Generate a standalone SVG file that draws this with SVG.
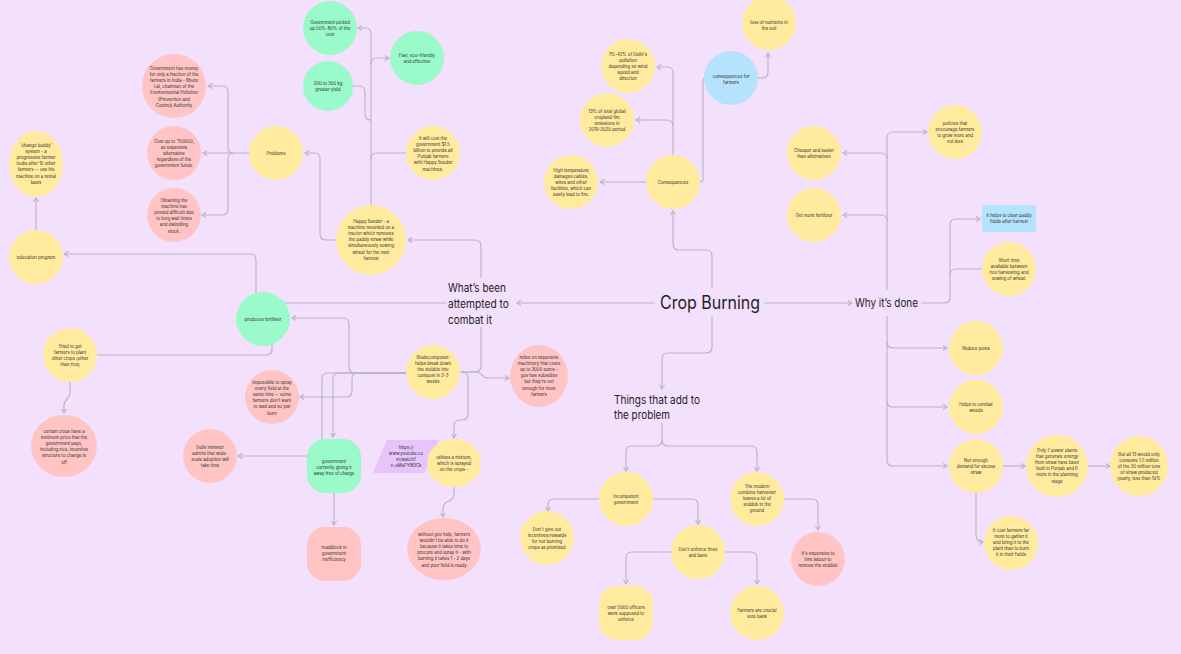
<svg xmlns="http://www.w3.org/2000/svg" width="1181" height="654" viewBox="0 0 1181 654">
<style>
.y{fill:#FFEA9D}.p{fill:#FFC4C3}.g{fill:#9AFACA}.b{fill:#B5E2FC}.v{fill:#E8C4FD}
.t{font-family:Inter,"Noto Sans","Liberation Sans",sans-serif;font-size:4.3px;fill:#2b2b2b;text-anchor:middle}
.L{font-family:Inter,"Noto Sans","Liberation Sans",sans-serif;fill:#1e1e1e}
.c{fill:none;stroke:#BAB3C2;stroke-width:1.1}
.a{marker-end:url(#ar)}
</style>
<defs>
<marker id="ar" viewBox="0 0 6 6" refX="5" refY="3" markerWidth="6" markerHeight="6" markerUnits="userSpaceOnUse" orient="auto"><path d="M1,0.5 L5,3 L1,5.5" fill="none" stroke="#BAB3C2" stroke-width="1.1"/></marker>
</defs>
<rect width="1181" height="654" fill="#F2E0FD"/>
<g id="connectors">
<path class="c a" d="M655,303 H517"/>
<path class="c a" d="M764,303 H852"/>
<path class="c a" d="M712,288 V256 Q712,250 706,250 H679 Q673,250 673,244 V211"/>
<path class="c a" d="M712,316 V347 Q712,353 706,353 H668 Q662,353 662,359 V389"/>
<path class="c a" d="M662,423 V440 Q662,446 656,446 H632 Q626,446 626,452 V471"/>
<path class="c a" d="M662,440 Q662,446 668,446 H751 Q757,446 757,452 V471"/>
<path class="c a" d="M653,499 H692 Q698,499 698,505 V524"/>
<path class="c a" d="M599,499 H554 Q548,499 548,505 V511"/>
<path class="c a" d="M672,552 H632 Q626,552 626,558 V584"/>
<path class="c a" d="M725,552 H751 Q757,552 757,558 V584"/>
<path class="c a" d="M783,499 H812 Q818,499 818,505 V530"/>
<path class="c a" d="M921,303 H944 Q950,303 950,297 V225 Q950,219 956,219 H980"/>
<path class="c" d="M950,275 Q950,269 956,269 H982"/>
<path class="c a" d="M887,290 V138 Q887,132 893,132 H927"/>
<path class="c a" d="M887,159 Q887,153 881,153 H843"/>
<path class="c a" d="M887,221 Q887,215 881,215 H843"/>
<path class="c a" d="M887,316 V460 Q887,466 893,466 H947"/>
<path class="c a" d="M887,342 Q887,348 893,348 H947"/>
<path class="c a" d="M887,401 Q887,407 893,407 H947"/>
<path class="c a" d="M1003,466 H1025"/>
<path class="c a" d="M976,493 V535 Q976,542 983,542"/>
<path class="c a" d="M1088,466 H1110"/>
<path class="c a" d="M673,155 V73 Q673,67 667,67 H657"/>
<path class="c a" d="M673,126 Q673,120 667,120 H636"/>
<path class="c a" d="M647,182 H600"/>
<path class="c" d="M700,182 Q703,182 703,179 V80 Q703,78 705,78"/>
<path class="c a" d="M758,78 H762 Q768,78 768,72 V53"/>
<path class="c a" d="M481,278 V246 Q481,240 475,240 H408"/>
<path class="c" d="M481,327 V366 Q481,372 475,372 H461"/>
<path class="c a" d="M461,372 H477 C482,372 482,378 488,378 H509"/>
<path class="c a" d="M461,372 H462 Q468,372 468,378 V414 Q468,420 462,420 H460 Q454,420 454,426 V438"/>
<path class="c a" d="M407,373 H355 Q349,373 349,367 V324 Q349,318 343,318 H292"/>
<path class="c a" d="M407,373 H358 Q352,373 352,379 V391 Q352,397 346,397 H300"/>
<path class="c a" d="M407,373 H339 Q333,373 333,379 V437"/>
<path class="c a" d="M407,373 H328 Q322,373 322,379 V450 Q322,456 316,456 H238"/>
<path class="c a" d="M447,303 H262 Q256,303 256,297 V260 Q256,254 250,254 H64"/>
<path class="c" d="M280,303 Q272,303 272,311 V349 Q272,355 266,355 H97"/>
<path class="c a" d="M70,382 V393 C70,399 64,399 64,405 V413"/>
<path class="c a" d="M36,230 V198"/>
<path class="c a" d="M334,493 V525"/>
<path class="c a" d="M454,487 V493 Q454,499 449,501 Q443,503 443,509 V517"/>
<path class="c a" d="M336,240 H326 Q320,240 320,234 V159 Q320,153 314,153 H305"/>
<path class="c a" d="M371,205 V34 Q371,28 365,28 H358"/>
<path class="c a" d="M371,64 Q371,58 377,58 H389"/>
<path class="c" d="M353,86 H359 Q365,86 365,92 V114 Q365,120 371,120"/>
<path class="c" d="M407,153 H377 Q371,153 371,159"/>
<path class="c a" d="M249,153 H203"/>
<path class="c a" d="M233,153 Q228,153 228,147 V92 Q228,86 222,86 H208"/>
<path class="c a" d="M233,153 Q228,153 228,159 V209 Q228,215 222,215 H202"/>
</g>

<g id="crop-burning"><text class="L" x="660" y="309" font-size="18" textLength="100" lengthAdjust="spacingAndGlyphs">Crop Burning</text></g>
<g id="attempted"><text class="L" font-size="11.5"><tspan x="448" y="291.5" textLength="58" lengthAdjust="spacingAndGlyphs">What’s been</tspan><tspan x="448" y="307.5" textLength="61" lengthAdjust="spacingAndGlyphs">attempted to</tspan><tspan x="448" y="323.5" textLength="44" lengthAdjust="spacingAndGlyphs">combat it</tspan></text></g>
<g id="why"><text class="L" x="855" y="307" font-size="11.5" textLength="63" lengthAdjust="spacingAndGlyphs">Why it’s done</text></g>
<g id="things"><text class="L" font-size="11.5"><tspan x="614" y="403.5" textLength="86" lengthAdjust="spacingAndGlyphs">Things that add to</tspan><tspan x="614" y="419" textLength="56" lengthAdjust="spacingAndGlyphs">the problem</tspan></text></g>

<g id="n-gov-picked"><circle class="g" cx="330" cy="28" r="27"/><text class="t" y="23.6"><tspan x="330">Government picked</tspan><tspan x="330" dy="6.2">up 50%-80% of the</tspan><tspan x="330" dy="6.2">cost</tspan></text></g>
<g id="n-fast"><circle class="g" cx="417" cy="58" r="27"/><text class="t" y="56.6"><tspan x="417">Fast, eco-friendly</tspan><tspan x="417" dy="6.2">and effective</tspan></text></g>
<g id="n-yield"><circle class="g" cx="328" cy="86" r="25"/><text class="t" y="84.6"><tspan x="328">200 to 300 kg</tspan><tspan x="328" dy="6.2">greater yield</tspan></text></g>
<g id="n-cost-billion"><circle class="y" cx="433" cy="153" r="27"/><text class="t" y="139.6"><tspan x="433">It will cost the</tspan><tspan x="433" dy="6.2">government $1.5</tspan><tspan x="433" dy="6.2">billion to provide all</tspan><tspan x="433" dy="6.2">Punjab farmers</tspan><tspan x="433" dy="6.2">with Happy Seeder</tspan><tspan x="433" dy="6.2">machines.</tspan></text></g>
<g id="n-happy-seeder"><circle class="y" cx="371" cy="240" r="35"/><text class="t" y="222.6"><tspan x="371">Happy Seeder - a</tspan><tspan x="371" dy="6.2">machine mounted on a</tspan><tspan x="371" dy="6.2">tractor which removes</tspan><tspan x="371" dy="6.2">the paddy straw while</tspan><tspan x="371" dy="6.2">simultaneously sowing</tspan><tspan x="371" dy="6.2">wheat for the next</tspan><tspan x="371" dy="6.2">harvest</tspan></text></g>
<g id="n-problems"><circle class="y" cx="276" cy="153" r="27"/><text class="t" x="276" y="154.6">Problems</text></g>
<g id="n-gov-money"><circle class="p" cx="174" cy="86" r="32"/><text class="t" y="69.6"><tspan x="174">Government has money</tspan><tspan x="174" dy="6.2">for only a fraction of the</tspan><tspan x="174" dy="6.2">farmers in India - Bhure</tspan><tspan x="174" dy="6.2">Lal, chairman of the</tspan><tspan x="174" dy="6.2">Environmental Pollution</tspan><tspan x="174" dy="6.2">(Prevention and</tspan><tspan x="174" dy="6.2">Control) Authority</tspan></text></g>
<g id="n-cost-150000"><circle class="p" cx="174" cy="153" r="27"/><text class="t" y="142.6"><tspan x="174">Cost up to '150000,</tspan><tspan x="174" dy="6.2">an expensive</tspan><tspan x="174" dy="6.2">alternative</tspan><tspan x="174" dy="6.2">regardless of the</tspan><tspan x="174" dy="6.2">government funds.</tspan></text></g>
<g id="n-obtaining"><circle class="p" cx="174" cy="215" r="27"/><text class="t" y="201.6"><tspan x="174">Obtaining the</tspan><tspan x="174" dy="6.2">machine has</tspan><tspan x="174" dy="6.2">proved difficult due</tspan><tspan x="174" dy="6.2">to long wait times</tspan><tspan x="174" dy="6.2">and dwindling</tspan><tspan x="174" dy="6.2">stock.</tspan></text></g>
<g id="n-change-buddy"><ellipse class="y" cx="36" cy="164" rx="27" ry="33"/><text class="t" y="146.6"><tspan x="36">'change buddy'</tspan><tspan x="36" dy="6.2">system - a</tspan><tspan x="36" dy="6.2">progressive farmer</tspan><tspan x="36" dy="6.2">looks after 10 other</tspan><tspan x="36" dy="6.2">farmers -- use his</tspan><tspan x="36" dy="6.2">machine on a rental</tspan><tspan x="36" dy="6.2">basis</tspan></text></g>
<g id="n-education"><circle class="y" cx="36" cy="257" r="27"/><text class="t" x="36" y="258.6">education program</text></g>
<g id="n-fertiliser"><circle class="g" cx="263" cy="319" r="27"/><text class="t" x="263" y="320.6">produces fertiliser</text></g>
<g id="n-other-crops"><circle class="y" cx="70" cy="355" r="27"/><text class="t" y="347.6"><tspan x="70">Tried to get</tspan><tspan x="70" dy="6.2">farmers to plant</tspan><tspan x="70" dy="6.2">other crops (other</tspan><tspan x="70" dy="6.2">than rice)</tspan></text></g>
<g id="n-min-price"><ellipse class="p" cx="64" cy="446" rx="33" ry="31"/><text class="t" y="432.6"><tspan x="64">certain crops have a</tspan><tspan x="64" dy="6.2">minimum price that the</tspan><tspan x="64" dy="6.2">government pays,</tspan><tspan x="64" dy="6.2">including rice; incentive</tspan><tspan x="64" dy="6.2">structure to change is</tspan><tspan x="64" dy="6.2">off</tspan></text></g>
<g id="n-impossible"><circle class="p" cx="272" cy="397" r="27"/><text class="t" y="383.6"><tspan x="272">Impossible to spray</tspan><tspan x="272" dy="6.2">every field at the</tspan><tspan x="272" dy="6.2">same time -- some</tspan><tspan x="272" dy="6.2">farmers don't want</tspan><tspan x="272" dy="6.2">to wait and so just</tspan><tspan x="272" dy="6.2">burn</tspan></text></g>
<g id="n-delhi-minister"><circle class="p" cx="210" cy="456" r="27"/><text class="t" y="448.6"><tspan x="210">Delhi minister</tspan><tspan x="210" dy="6.2">admits that wide-</tspan><tspan x="210" dy="6.2">scale adoption will</tspan><tspan x="210" dy="6.2">take time</tspan></text></g>
<g id="n-free"><rect class="g" x="307" y="439" width="54" height="54" rx="18"/><text class="t" y="462.6"><tspan x="334">government</tspan><tspan x="334" dy="6.2">currently giving it</tspan><tspan x="334" dy="6.2">away free of charge</tspan></text></g>
<g id="n-roadblock"><rect class="p" x="307" y="527" width="54" height="54" rx="18"/><text class="t" y="548.6"><tspan x="334">roadblock in</tspan><tspan x="334" dy="6.2">government</tspan><tspan x="334" dy="6.2">inefficiency</tspan></text></g>
<g id="n-link"><polygon class="v" points="387,440 439,440 425,473 373,473"/><text class="t" y="448.6"><tspan x="406">https://</tspan><tspan x="406" dy="6.2">www.youtube.co</tspan><tspan x="406" dy="6.2">m/watch?</tspan><tspan x="406" dy="6.2">v=sMaTYl83Ck</tspan></text></g>
<g id="n-mixture"><ellipse class="y" cx="454" cy="463" rx="27" ry="24"/><text class="t" y="458.6"><tspan x="454">utilises a mixture,</tspan><tspan x="454" dy="6.2">which is sprayed</tspan><tspan x="454" dy="6.2">on the crops -</tspan></text></g>
<g id="n-biodecomposer"><circle class="y" cx="433" cy="372" r="27"/><text class="t" y="358.6"><tspan x="433">Biodecomposer:</tspan><tspan x="433" dy="6.2">helps break down</tspan><tspan x="433" dy="6.2">the stubble into</tspan><tspan x="433" dy="6.2">compost in 2-3</tspan><tspan x="433" dy="6.2">weeks</tspan></text></g>
<g id="n-machinery"><ellipse class="p" cx="539" cy="376" rx="29" ry="31"/><text class="t" y="358.6"><tspan x="539">relies on expensive</tspan><tspan x="539" dy="6.2">machinery that costs</tspan><tspan x="539" dy="6.2">up to 3000 euros -</tspan><tspan x="539" dy="6.2">gov has subsidies</tspan><tspan x="539" dy="6.2">but they're not</tspan><tspan x="539" dy="6.2">enough for most</tspan><tspan x="539" dy="6.2">farmers</tspan></text></g>
<g id="n-without-help"><ellipse class="p" cx="444" cy="549" rx="37" ry="31"/><text class="t" y="535.6"><tspan x="444">without gov help, farmers</tspan><tspan x="444" dy="6.2">wouldn't be able to do it</tspan><tspan x="444" dy="6.2">because it takes time to</tspan><tspan x="444" dy="6.2">procure and spray it - with</tspan><tspan x="444" dy="6.2">burning it takes 1 - 2 days</tspan><tspan x="444" dy="6.2">and your field is ready</tspan></text></g>
<g id="n-consequences"><circle class="y" cx="673" cy="182" r="27"/><text class="t" x="673" y="183.6">Consequences</text></g>
<g id="n-delhi-pollution"><circle class="y" cx="628" cy="66" r="27"/><text class="t" y="55.6"><tspan x="628">1%-42% of Delhi's</tspan><tspan x="628" dy="6.2">pollution</tspan><tspan x="628" dy="6.2">depending on wind</tspan><tspan x="628" dy="6.2">speed and</tspan><tspan x="628" dy="6.2">direction</tspan></text></g>
<g id="n-global"><circle class="y" cx="607" cy="120" r="27"/><text class="t" y="112.6"><tspan x="607">13% of total global</tspan><tspan x="607" dy="6.2">cropland fire</tspan><tspan x="607" dy="6.2">emissions in</tspan><tspan x="607" dy="6.2">2019-2020 period</tspan></text></g>
<g id="n-high-temp"><circle class="y" cx="571" cy="182" r="27"/><text class="t" y="171.6"><tspan x="571">High temperature</tspan><tspan x="571" dy="6.2">damages cables,</tspan><tspan x="571" dy="6.2">wires and other</tspan><tspan x="571" dy="6.2">facilities, which can</tspan><tspan x="571" dy="6.2">easily lead to fire.</tspan></text></g>
<g id="n-cons-farmers"><circle class="b" cx="731" cy="78" r="27"/><text class="t" y="77.6"><tspan x="731">consequences for</tspan><tspan x="731" dy="6.2">farmers</tspan></text></g>
<g id="n-nutrients"><circle class="y" cx="769" cy="23" r="27"/><text class="t" y="23.6"><tspan x="769">loss of nutrients in</tspan><tspan x="769" dy="6.2">the soil</tspan></text></g>
<g id="n-cheaper"><circle class="y" cx="814" cy="153" r="27"/><text class="t" y="151.6"><tspan x="814">Cheaper and easier</tspan><tspan x="814" dy="6.2">than alternatives</tspan></text></g>
<g id="n-more-fert"><circle class="y" cx="814" cy="215" r="27"/><text class="t" x="814" y="216.6">Get more fertilizer</text></g>
<g id="n-policies"><circle class="y" cx="955" cy="132" r="27"/><text class="t" y="124.6"><tspan x="955">policies that</tspan><tspan x="955" dy="6.2">encourage farmers</tspan><tspan x="955" dy="6.2">to grow more and</tspan><tspan x="955" dy="6.2">not less</tspan></text></g>
<g id="n-clear-fields"><rect class="b" x="982" y="205" width="54" height="27" rx="1"/><text class="t" y="216.6"><tspan x="1009">It helps to clear paddy</tspan><tspan x="1009" dy="6.2">fields after harvest</tspan></text></g>
<g id="n-short-time"><circle class="y" cx="1009" cy="269" r="27"/><text class="t" y="261.6"><tspan x="1009">Short time</tspan><tspan x="1009" dy="6.2">available between</tspan><tspan x="1009" dy="6.2">rice harvesting and</tspan><tspan x="1009" dy="6.2">sowing of wheat.</tspan></text></g>
<g id="n-pests"><circle class="y" cx="976" cy="348" r="27"/><text class="t" x="976" y="349.6">Reduce pests</text></g>
<g id="n-weeds"><circle class="y" cx="976" cy="407" r="27"/><text class="t" y="405.6"><tspan x="976">Helps to combat</tspan><tspan x="976" dy="6.2">weeds</tspan></text></g>
<g id="n-demand"><circle class="y" cx="976" cy="466" r="27"/><text class="t" y="461.6"><tspan x="976">Not enough</tspan><tspan x="976" dy="6.2">demand for excess</tspan><tspan x="976" dy="6.2">straw</tspan></text></g>
<g id="n-power-plants"><circle class="y" cx="1057" cy="466" r="31"/><text class="t" y="451.6"><tspan x="1057">Only 7 power plants</tspan><tspan x="1057" dy="6.2">that generate energy</tspan><tspan x="1057" dy="6.2">from straw have been</tspan><tspan x="1057" dy="6.2">built in Punjab and 6</tspan><tspan x="1057" dy="6.2">more in the planning</tspan><tspan x="1057" dy="6.2">stage</tspan></text></g>
<g id="n-all-13"><ellipse class="y" cx="1139" cy="466" rx="29" ry="30"/><text class="t" y="455.6"><tspan x="1139">But all 13 would only</tspan><tspan x="1139" dy="6.2">consume 1.5 million</tspan><tspan x="1139" dy="6.2">of the 20 million tons</tspan><tspan x="1139" dy="6.2">of straw produced</tspan><tspan x="1139" dy="6.2">yearly, less than 10%</tspan></text></g>
<g id="n-cost-gather"><circle class="y" cx="1011" cy="543" r="27"/><text class="t" y="531.6"><tspan x="1011">It cost farmers far</tspan><tspan x="1011" dy="6.2">more to gather it</tspan><tspan x="1011" dy="6.2">and bring it to the</tspan><tspan x="1011" dy="6.2">plant than to burn</tspan><tspan x="1011" dy="6.2">it in their fields</tspan></text></g>
<g id="n-incompetent"><circle class="y" cx="626" cy="499" r="27"/><text class="t" y="497.6"><tspan x="626">Incompetent</tspan><tspan x="626" dy="6.2">government</tspan></text></g>
<g id="n-harvester"><circle class="y" cx="757" cy="499" r="27"/><text class="t" y="487.6"><tspan x="757">The modern</tspan><tspan x="757" dy="6.2">combine harvester</tspan><tspan x="757" dy="6.2">leaves a lot of</tspan><tspan x="757" dy="6.2">stubble in the</tspan><tspan x="757" dy="6.2">ground</tspan></text></g>
<g id="n-incentives"><circle class="y" cx="547" cy="538" r="27"/><text class="t" y="530.6"><tspan x="547">Don't give out</tspan><tspan x="547" dy="6.2">incentives/rewards</tspan><tspan x="547" dy="6.2">for not burning</tspan><tspan x="547" dy="6.2">crops as promised</tspan></text></g>
<g id="n-fines"><circle class="y" cx="698" cy="552" r="27"/><text class="t" y="550.6"><tspan x="698">Don't enforce fines</tspan><tspan x="698" dy="6.2">and bans</tspan></text></g>
<g id="n-labour"><circle class="p" cx="818" cy="559" r="27"/><text class="t" y="554.6"><tspan x="818">It's expensive to</tspan><tspan x="818" dy="6.2">hire labour to</tspan><tspan x="818" dy="6.2">remove the stubble</tspan></text></g>
<g id="n-officers"><rect class="y" x="599" y="586" width="54" height="54" rx="18"/><text class="t" y="608.6"><tspan x="626">over 5000 officers</tspan><tspan x="626" dy="6.2">were supposed to</tspan><tspan x="626" dy="6.2">enforce</tspan></text></g>
<g id="n-vote-bank"><circle class="y" cx="757" cy="613" r="27"/><text class="t" y="611.6"><tspan x="757">Farmers are crucial</tspan><tspan x="757" dy="6.2">vote bank</tspan></text></g>
</svg>
